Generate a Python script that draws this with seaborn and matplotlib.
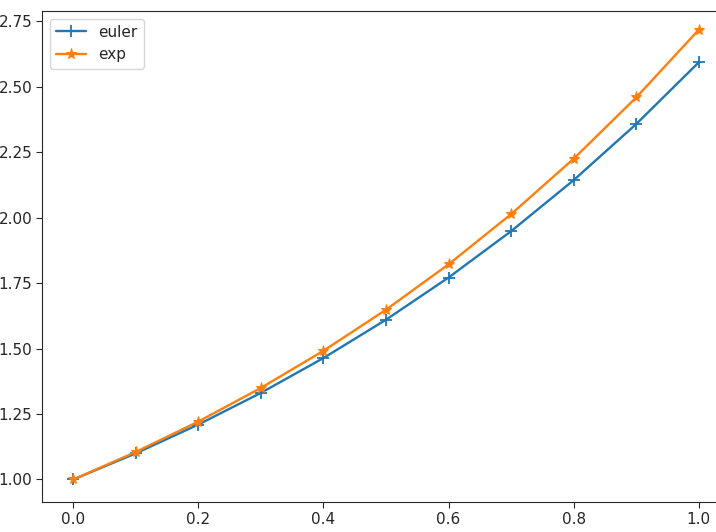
import pandas as pd
import matplotlib
matplotlib.use("Agg")
import matplotlib.pyplot as plt
import seaborn as sns

# 数据
x_vals = [0.0, 0.1, 0.2, 0.3, 0.4, 0.5, 0.6, 0.7, 0.8, 0.9, 1.0]
euler_vals = [1.0, 1.1, 1.21, 1.331, 1.4641, 1.6105, 1.7716, 1.9487, 2.1436, 2.3579, 2.5937]
exp_vals = [1.0, 1.1052, 1.2214, 1.3499, 1.4918, 1.6487, 1.8221, 2.0138, 2.2255, 2.4596, 2.7183]

sns.set_style("ticks")
plt.rcParams['font.family'] = ['DejaVu Sans']
plt.rcParams['font.size'] = 11

fig = plt.figure(figsize=(7.16, 5.32), dpi=100)
ax = fig.add_axes([42 / 716, 30 / 532, 688 / 716, 491 / 532])

# 两条曲线分开画（+ 和 * 不能在同一个 style 映射里混用）
sns.lineplot(x=x_vals, y=euler_vals, marker="+", color="#1f77b4",
             markersize=8, markeredgecolor="#1f77b4", markeredgewidth=1.3,
             linewidth=1.7, label="euler", ax=ax)
sns.lineplot(x=x_vals, y=exp_vals, marker="*", color="#ff7f0e",
             markersize=8, markeredgecolor="#ff7f0e", linewidth=1.7,
             label="exp", ax=ax)

ax.set_xlim(-0.05, 1.05)
ax.set_ylim(0.914, 2.79)
ax.set_xticks([0.0, 0.2, 0.4, 0.6, 0.8, 1.0])
ax.set_yticks([1.0, 1.25, 1.5, 1.75, 2.0, 2.25, 2.5, 2.75])
ax.tick_params(labelsize=11, length=4, pad=3)
for s in ax.spines.values():
    s.set_visible(True)
ax.legend(loc="upper left", fontsize=11)

fig.savefig("out.png", dpi=100)
